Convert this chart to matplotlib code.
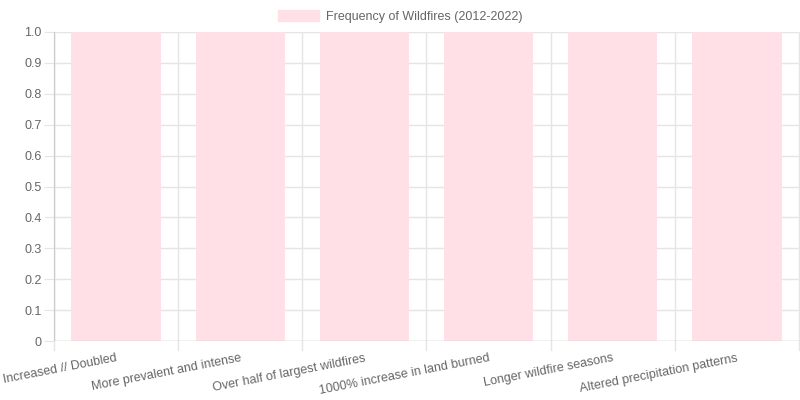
import matplotlib
matplotlib.use("Agg")
import matplotlib.pyplot as plt
import numpy as np

categories = ["Increased // Doubled", "More prevalent and intense",
              "Over half of largest wildfires", "1000% increase in land burned",
              "Longer wildfire seasons", "Altered precipitation patterns"]
values = [1, 1, 1, 1, 1, 1]
y_ticks = [0, 0.1, 0.2, 0.3, 0.4, 0.5, 0.6, 0.7, 0.8, 0.9, 1.0]
y_labels = ["0", "0.1", "0.2", "0.3", "0.4", "0.5", "0.6", "0.7", "0.8", "0.9", "1.0"]
series_name = "Frequency of Wildfires (2012-2022)"

plt.rcParams['font.family'] = ['Liberation Sans', 'DejaVu Sans']
grid_c = "#e5e5e5"
text_c = "#666666"
bar_c = "#ffe0e6"

fig = plt.figure(figsize=(8, 4), dpi=100)
ax = fig.add_axes([54 / 800, 1 - 341 / 400, 745 / 800, (341 - 32) / 400])

x = np.arange(len(categories))
ax.bar(x, values, width=0.72, color=bar_c, linewidth=0)

ax.set_xlim(-0.5, len(categories) - 0.5)
ax.set_ylim(0, 1.0)
ax.set_yticks(y_ticks)
ax.set_yticklabels(y_labels)
ax.set_xticks(x)
ax.set_xticklabels(categories, rotation=11, ha='right', va='top',
                   rotation_mode='anchor')

# horizontal grid lines
for t in y_ticks:
    ax.axhline(t, color=grid_c, linewidth=1, zorder=0)
# vertical grid lines at category edges, extending below the axis
for b in np.arange(len(categories) + 1) - 0.5:
    ax.plot([b, b], [-0.03, 1.0], color=grid_c, linewidth=1, zorder=0,
            clip_on=False)

for s in ax.spines.values():
    s.set_visible(False)
ax.axhline(0, color="#cccccc", linewidth=1, zorder=3)
ax.axvline(-0.5, color="#cccccc", linewidth=1, zorder=3)

ax.tick_params(axis='y', length=7, color=grid_c, labelcolor=text_c,
               labelsize=9, pad=2)
ax.tick_params(axis='x', length=0, labelcolor=text_c, labelsize=9, pad=8)

fig.legend([plt.Rectangle((0, 0), 1, 1, color=bar_c)], [series_name],
           loc='upper center', bbox_to_anchor=(0.5, 1.0), frameon=False,
           fontsize=9, labelcolor=text_c, handlelength=3.3, handleheight=1.0,
           handletextpad=0.5, borderaxespad=0.4)

fig.savefig("out.png", dpi=100)
